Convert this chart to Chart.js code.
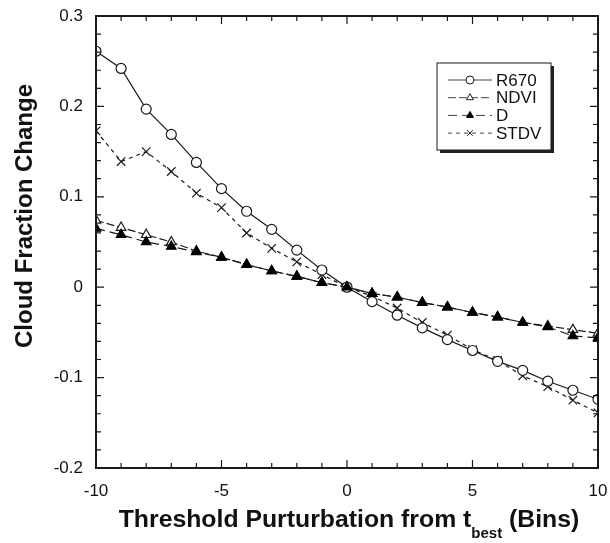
<!DOCTYPE html>
<html>
<head>
<meta charset="utf-8">
<script src="https://cdn.jsdelivr.net/npm/chart.js@4.4.1/dist/chart.umd.min.js"></script>
<style>
  html, body { margin: 0; padding: 0; background: #fff; }
  #wrap { width: 610px; height: 543px; }
</style>
</head>
<body>
<div id="wrap"><canvas id="myChart" width="610" height="543"></canvas></div>
<script>
var bins = [-10,-9,-8,-7,-6,-5,-4,-3,-2,-1,0,1,2,3,4,5,6,7,8,9,10];

var R670 = [0.261,0.242,0.197,0.169,0.138,0.109,0.084,0.064,0.041,0.019,0,-0.016,-0.031,-0.045,-0.058,-0.070,-0.082,-0.092,-0.104,-0.114,-0.124];
var NDVI = [0.074,0.066,0.058,0.050,0.040,0.033,0.025,0.018,0.012,0.005,0,-0.007,-0.011,-0.017,-0.022,-0.028,-0.033,-0.039,-0.043,-0.047,-0.051];
var D    = [0.065,0.058,0.050,0.045,0.039,0.033,0.025,0.018,0.012,0.005,0,-0.007,-0.011,-0.017,-0.022,-0.028,-0.033,-0.039,-0.044,-0.054,-0.056];
var STDV = [0.173,0.139,0.150,0.128,0.104,0.088,0.060,0.043,0.028,0.014,0,-0.010,-0.023,-0.039,-0.053,-0.069,-0.081,-0.098,-0.110,-0.125,-0.139];

var yTicks = [-0.2,-0.1,0,0.1,0.2,0.3];
var xTicks = [-10,-5,0,5,10];

function pts(arr) {
  return bins.map(function(x, i) { return { x: x, y: arr[i] }; });
}

var ink = "#1a1a1a";
var sans = "'Liberation Sans', Arial, sans-serif";

// inward ticks, frame, axis titles and boxed legend
var decor = {
  id: "decor",
  afterDraw: function(chart) {
    var c = chart.ctx, a = chart.chartArea;
    var xs = chart.scales.x, ys = chart.scales.y;
    c.save();
    c.strokeStyle = ink;
    c.lineWidth = 1.2;
    for (var v = -10; v <= 10; v++) {
      var px = xs.getPixelForValue(v);
      var len = (v % 5 === 0) ? 8 : 5;
      c.beginPath();
      c.moveTo(px, a.bottom); c.lineTo(px, a.bottom - len);
      c.moveTo(px, a.top); c.lineTo(px, a.top + len);
      c.stroke();
    }
    for (var k = -10; k <= 15; k++) {
      var py = ys.getPixelForValue(k * 0.02);
      var l2 = (k % 5 === 0) ? 8 : 5;
      c.beginPath();
      c.moveTo(a.left, py); c.lineTo(a.left + l2, py);
      c.moveTo(a.right, py); c.lineTo(a.right - l2, py);
      c.stroke();
    }
    c.lineWidth = 2;
    c.strokeRect(a.left, a.top, a.right - a.left, a.bottom - a.top);

    // y title
    c.fillStyle = "#111";
    c.font = "bold 24px " + sans;
    c.textAlign = "center";
    c.textBaseline = "middle";
    c.save();
    c.translate(25, 216);
    c.rotate(-Math.PI / 2);
    c.fillText("Cloud Fraction Change", 0, 0);
    c.restore();

    // x title with subscript
    var big = "bold 24.8px " + sans;
    var small = "bold 15px " + sans;
    var p1 = "Threshold Purturbation from t", p2 = "best", p3 = " (Bins)";
    c.font = big; var w1 = c.measureText(p1).width, w3 = c.measureText(p3).width;
    c.font = small; var w2 = c.measureText(p2).width;
    var x0 = 349 - (w1 + w2 + w3) / 2;
    var base = 527;
    c.textAlign = "left";
    c.textBaseline = "alphabetic";
    c.font = big; c.fillText(p1, x0, base);
    c.font = small; c.fillText(p2, x0 + w1, base + 11);
    c.font = big; c.fillText(p3, x0 + w1 + w2, base);

    // legend box
    var bx = 437, by = 63, bw = 114, bh = 87;
    c.fillStyle = "#222";
    c.fillRect(bx + 3, by + 3, bw, bh);
    c.fillStyle = "#fff";
    c.fillRect(bx, by, bw, bh);
    c.lineWidth = 1;
    c.strokeStyle = ink;
    c.strokeRect(bx, by, bw, bh);
    [0, 1, 2, 3].forEach(function(i) {
      var ds = chart.data.datasets[i];
      var ry = 80 + i * 17.7;
      c.save();
      c.strokeStyle = "#444";
      c.lineWidth = 1;
      c.setLineDash(ds.borderDash || []);
      c.beginPath(); c.moveTo(448, ry); c.lineTo(492, ry); c.stroke();
      c.restore();
      c.save();
      c.lineWidth = 1;
      c.fillStyle = ds.pointBackgroundColor;
      c.strokeStyle = ds.pointBorderColor;
      Chart.helpers.drawPoint(c, { pointStyle: ds.pointStyle, radius: 4, borderWidth: 1, rotation: 0 }, 470, ry);
      c.restore();
      c.fillStyle = "#111";
      c.font = "17px " + sans;
      c.textAlign = "left";
      c.textBaseline = "middle";
      c.fillText(ds.label, 496, ry + 1);
    });
    c.restore();
  }
};

var ctx = document.getElementById("myChart");
var myChart = new Chart(ctx, {
  type: "line",
  data: {
    datasets: [
      {
        label: "R670",
        data: pts(R670),
        order: 1,
        borderColor: ink,
        borderWidth: 1.2,
        pointStyle: "circle",
        pointRadius: 5,
        pointBorderWidth: 1.2,
        pointBackgroundColor: "#fff",
        pointBorderColor: ink,
        fill: false
      },
      {
        label: "NDVI",
        data: pts(NDVI),
        order: 3,
        borderColor: ink,
        borderWidth: 1.2,
        borderDash: [8, 3],
        pointStyle: "triangle",
        pointRadius: 5.5,
        pointBorderWidth: 1.2,
        pointBackgroundColor: "#fff",
        pointBorderColor: ink,
        fill: false
      },
      {
        label: "D",
        data: pts(D),
        order: 0,
        borderColor: ink,
        borderWidth: 1.2,
        borderDash: [9, 5],
        pointStyle: "triangle",
        pointRadius: 5.5,
        pointBorderWidth: 1.2,
        pointBackgroundColor: "#000",
        pointBorderColor: "#000",
        fill: false
      },
      {
        label: "STDV",
        data: pts(STDV),
        order: 2,
        borderColor: ink,
        borderWidth: 1.2,
        borderDash: [4, 4],
        pointStyle: "crossRot",
        pointRadius: 6,
        pointBorderWidth: 1.2,
        pointBackgroundColor: ink,
        pointBorderColor: ink,
        fill: false
      }
    ]
  },
  options: {
    responsive: false,
    animation: false,
    layout: { padding: { top: 16, right: 12, left: 0, bottom: 0 } },
    plugins: { legend: { display: false }, tooltip: { enabled: false } },
    scales: {
      x: {
        type: "linear",
        min: -10,
        max: 10,
        afterFit: function(s) { s.height = 75; s.paddingLeft = 0; s.paddingRight = 0; },
        afterBuildTicks: function(s) { s.ticks = xTicks.map(function(v) { return { value: v }; }); },
        grid: { display: false, drawTicks: false },
        border: { display: false },
        ticks: { padding: 13, color: "#111", font: { family: sans, size: 17 }, maxRotation: 0 }
      },
      y: {
        type: "linear",
        min: -0.2,
        max: 0.3,
        afterFit: function(s) { s.width = 96; s.paddingTop = 0; s.paddingBottom = 0; },
        afterBuildTicks: function(s) { s.ticks = yTicks.map(function(v) { return { value: v }; }); },
        grid: { display: false, drawTicks: false },
        border: { display: false },
        ticks: {
          padding: 13,
          color: "#111",
          font: { family: sans, size: 17 },
          callback: function(v) { return Math.abs(v) < 1e-9 ? "0" : String(Math.round(v * 10) / 10); }
        }
      }
    }
  },
  plugins: [decor]
});
</script>
</body>
</html>
